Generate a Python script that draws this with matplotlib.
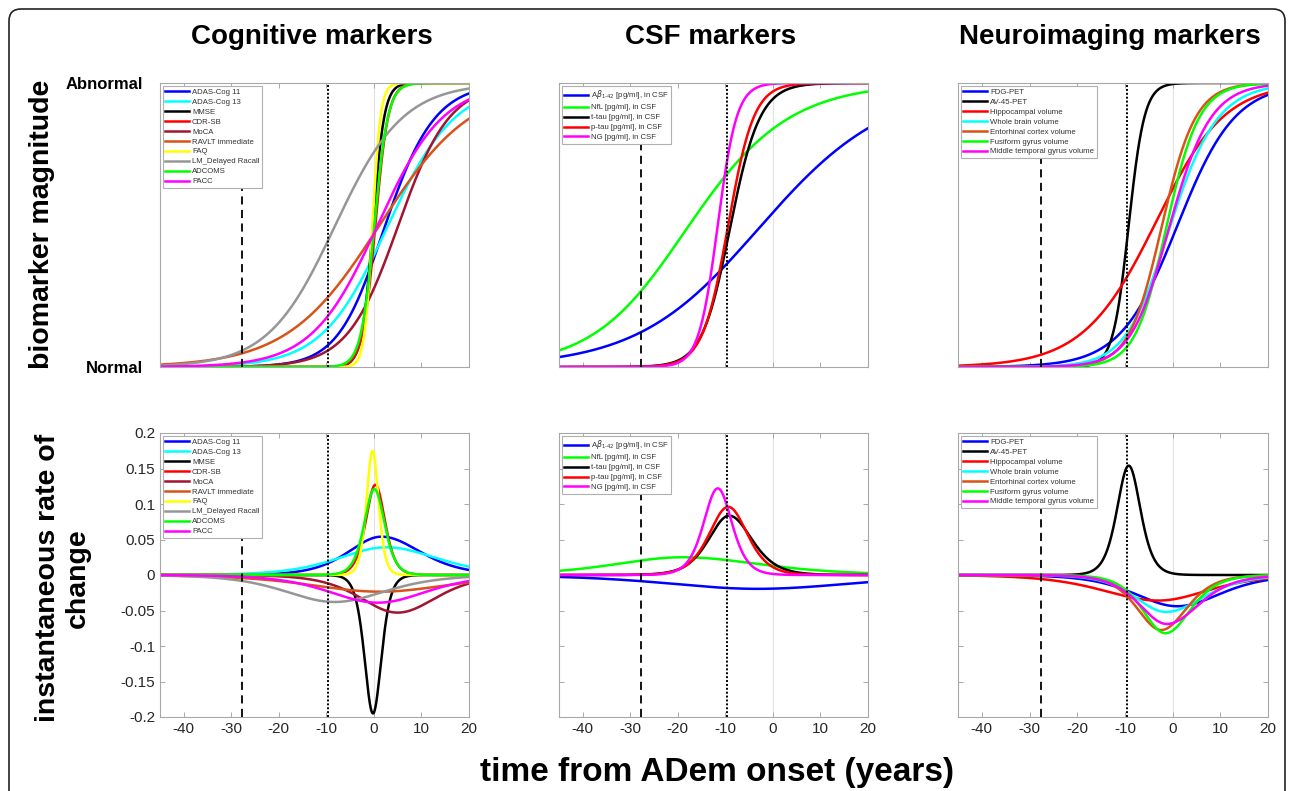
import numpy as np
import matplotlib
matplotlib.use("Agg")
import matplotlib.pyplot as plt
from matplotlib.patches import FancyBboxPatch
from matplotlib.transforms import IdentityTransform

plt.rcParams['font.family'] = ['Liberation Sans', 'DejaVu Sans']

# ---------------- data ----------------
time_min, time_max = -45, 20
x_ticks = [-40, -30, -20, -10, 0, 10, 20]
x_tick_labels = ['-40', '-30', '-20', '-10', '0', '10', '20']
rate_ticks = [-0.2, -0.15, -0.1, -0.05, 0, 0.05, 0.1, 0.15, 0.2]
rate_tick_labels = ['-0.2', '-0.15', '-0.1', '-0.05', '0', '0.05', '0.1', '0.15', '0.2']
stage_dashed = -27.7
stage_dotted = -9.6

panel_titles = ['Cognitive markers', 'CSF markers', 'Neuroimaging markers']

cog_markers = ['ADAS-Cog 11', 'ADAS-Cog 13', 'MMSE', 'CDR-SB', 'MoCA', 'RAVLT immediate',
               'FAQ', 'LM_Delayed Racall', 'ADCOMS', 'PACC']
cog_colors = ['#0000ff', '#00ffff', '#000000', '#ff0000', '#a2142f', '#d95319',
              '#ffff00', '#969696', '#00ff00', '#ff00ff']
cog_peak_time = [1.6, 2.6, -0.2, 0.3, 5.0, 1.2, -0.3, -8.3, 0.1, 0.8]
cog_peak_rate = [0.054, 0.039, -0.195, 0.127, -0.053, -0.0235, 0.175, -0.038, 0.121, -0.039]
cog_width_before = [4.7, 6.8, 1.19, 1.35, 5.3, 9.7, 0.85, 7.0, 1.43, 6.9]
cog_width_after = [5.5, 7.2, 1.19, 1.35, 5.45, 9.7, 0.85, 7.2, 1.43, 6.9]

csf_markers = [r'A$\beta_{1\text{-}42}$ [pg/ml], in CSF', 'NfL [pg/ml], in CSF',
               't-tau [pg/ml], in CSF', 'p-tau [pg/ml], in CSF', 'NG [pg/ml], in CSF']
csf_colors = ['#0000ff', '#00ff00', '#000000', '#ff0000', '#ff00ff']
csf_peak_time = [-3.3, -19.0, -9.2, -9.4, -11.6]
csf_peak_rate = [-0.0195, 0.025, 0.0836, 0.096, 0.122]
csf_width_before = [12.7, 9.6, 2.9, 2.7, 2.0]
csf_width_after = [13.65, 11.0, 3.2, 2.7, 2.0]

img_markers = ['FDG-PET', 'AV-45-PET', 'Hippocampal volume', 'Whole brain volume',
               'Entorhinal cortex volume', 'Fusiform gyrus volume', 'Middle temporal gyrus volume']
img_colors = ['#0000ff', '#000000', '#ff0000', '#00ffff', '#d95319', '#00ff00', '#ff00ff']
img_peak_time = [1.0, -9.2, -3.0, -1.4, -2.4, -1.5, -1.2]
img_peak_rate = [-0.044, 0.154, -0.036, -0.052, -0.0775, -0.082, -0.069]
img_width_before = [6.0, 1.65, 7.8, 4.34, 3.4, 3.2, 3.88]
img_width_after = [6.05, 1.65, 7.0, 5.3, 3.6, 3.5, 4.5]

# ---------------- model curves ----------------
t = np.linspace(time_min, time_max, 1500)


def rate_curve(tp, peak, sl, sr):
    s = np.where(t < tp, sl, sr)
    u = (t - tp) / s
    return peak / np.cosh(u / 2.0) ** 2


def magnitude_curve(tp, sl, sr):
    left = 2 * sl * (1 + np.tanh((t - tp) / (2 * sl)))
    right = 2 * sl + 2 * sr * np.tanh((t - tp) / (2 * sr))
    return np.where(t < tp, left, right) / (2 * (sl + sr))


panels = [
    (cog_markers, cog_colors, cog_peak_time, cog_peak_rate, cog_width_before, cog_width_after),
    (csf_markers, csf_colors, csf_peak_time, csf_peak_rate, csf_width_before, csf_width_after),
    (img_markers, img_colors, img_peak_time, img_peak_rate, img_width_before, img_width_after),
]

# ---------------- figure ----------------
W, H = 1292, 791
fig = plt.figure(figsize=(W / 100, H / 100), dpi=100)


def px_axes(x0, y0, x1, y1):
    return fig.add_axes([x0 / W, 1 - y1 / H, (x1 - x0) / W, (y1 - y0) / H])


col_x = [(160, 469), (559, 868), (958, 1268)]
top_y = (83, 367)
bot_y = (433, 717)

spine_col = '#a8a8a8'
tick_col = '#262626'
leg_fs = 5.6


def style_axes(ax):
    for sp in ax.spines.values():
        sp.set_color(spine_col)
        sp.set_linewidth(0.8)
    ax.tick_params(direction='in', length=3.5, width=0.7, color=spine_col,
                   top=True, right=True, labelsize=11, labelcolor=tick_col)
    ax.set_xlim(time_min, time_max)
    ax.set_xticks(x_ticks)


for i, (names, colors, tps, peaks, sls, srs) in enumerate(panels):
    x0, x1 = col_x[i]
    axt = px_axes(x0, top_y[0], x1, top_y[1])
    axb = px_axes(x0, bot_y[0], x1, bot_y[1])
    for ax in (axt, axb):
        style_axes(ax)
        ax.axvline(0, color='#e2e2e2', lw=0.8, zorder=0)

    for name, c, tp, pk, sl, sr in zip(names, colors, tps, peaks, sls, srs):
        axt.plot(t, magnitude_curve(tp, sl, sr), color=c, lw=1.8, label=name)
        axb.plot(t, rate_curve(tp, pk, sl, sr), color=c, lw=1.8, label=name)

    for ax in (axt, axb):
        ax.axvline(stage_dashed, color='black', lw=1.3, ls=(0, (4.5, 3)), zorder=3)
        ax.axvline(stage_dotted, color='black', lw=1.4, ls=(0, (1, 1)), zorder=3)

    # top row
    axt.set_ylim(0, 1)
    axt.set_xticklabels([])
    if i == 0:
        axt.set_yticks([0, 1])
        axt.set_yticklabels(['Normal', 'Abnormal'], fontsize=12, fontweight='bold', color='black')
        axt.tick_params(axis='y', length=0, pad=12)
    else:
        axt.set_yticks([])

    # bottom row
    axb.set_ylim(-0.2, 0.2)
    axb.set_xticklabels(x_tick_labels)
    axb.set_yticks(rate_ticks)
    if i == 0:
        axb.set_yticklabels(rate_tick_labels)
    else:
        axb.set_yticklabels([])

    for ax in (axt, axb):
        leg = ax.legend(loc='upper left', fontsize=leg_fs, frameon=True, fancybox=False,
                        framealpha=1, edgecolor='#b0b0b0', handlelength=3.0,
                        handletextpad=0.4, labelspacing=0.32, borderpad=0.35,
                        borderaxespad=0.35)
        leg.get_frame().set_linewidth(0.8)
        leg.set_zorder(10)
        for txt in leg.get_texts():
            txt.set_color('#333333')

    fig.text((x0 + x1) / 2 / W - 3 / W, 1 - 37 / H, panel_titles[i], ha='center', va='center',
             fontsize=20, fontweight='bold')

fig.text(42 / W, 1 - 224 / H, 'biomarker magnitude', rotation=90, ha='center', va='center',
         fontsize=20.5, fontweight='bold')
fig.text(63 / W, 1 - 578 / H, 'instantaneous rate of\nchange', rotation=90, ha='center',
         va='center', fontsize=20.5, fontweight='bold', linespacing=1.2)
fig.text(717 / W, 1 - 773 / H, 'time from ADem onset (years)', ha='center', va='center',
         fontsize=24, fontweight='bold')

border = FancyBboxPatch((9, -40), 1276, H - 9 + 40, boxstyle='round,pad=0,rounding_size=12',
                        transform=IdentityTransform(), fill=False, edgecolor='#222222', lw=1.2)
fig.add_artist(border)

fig.savefig('out.png', dpi=100)
